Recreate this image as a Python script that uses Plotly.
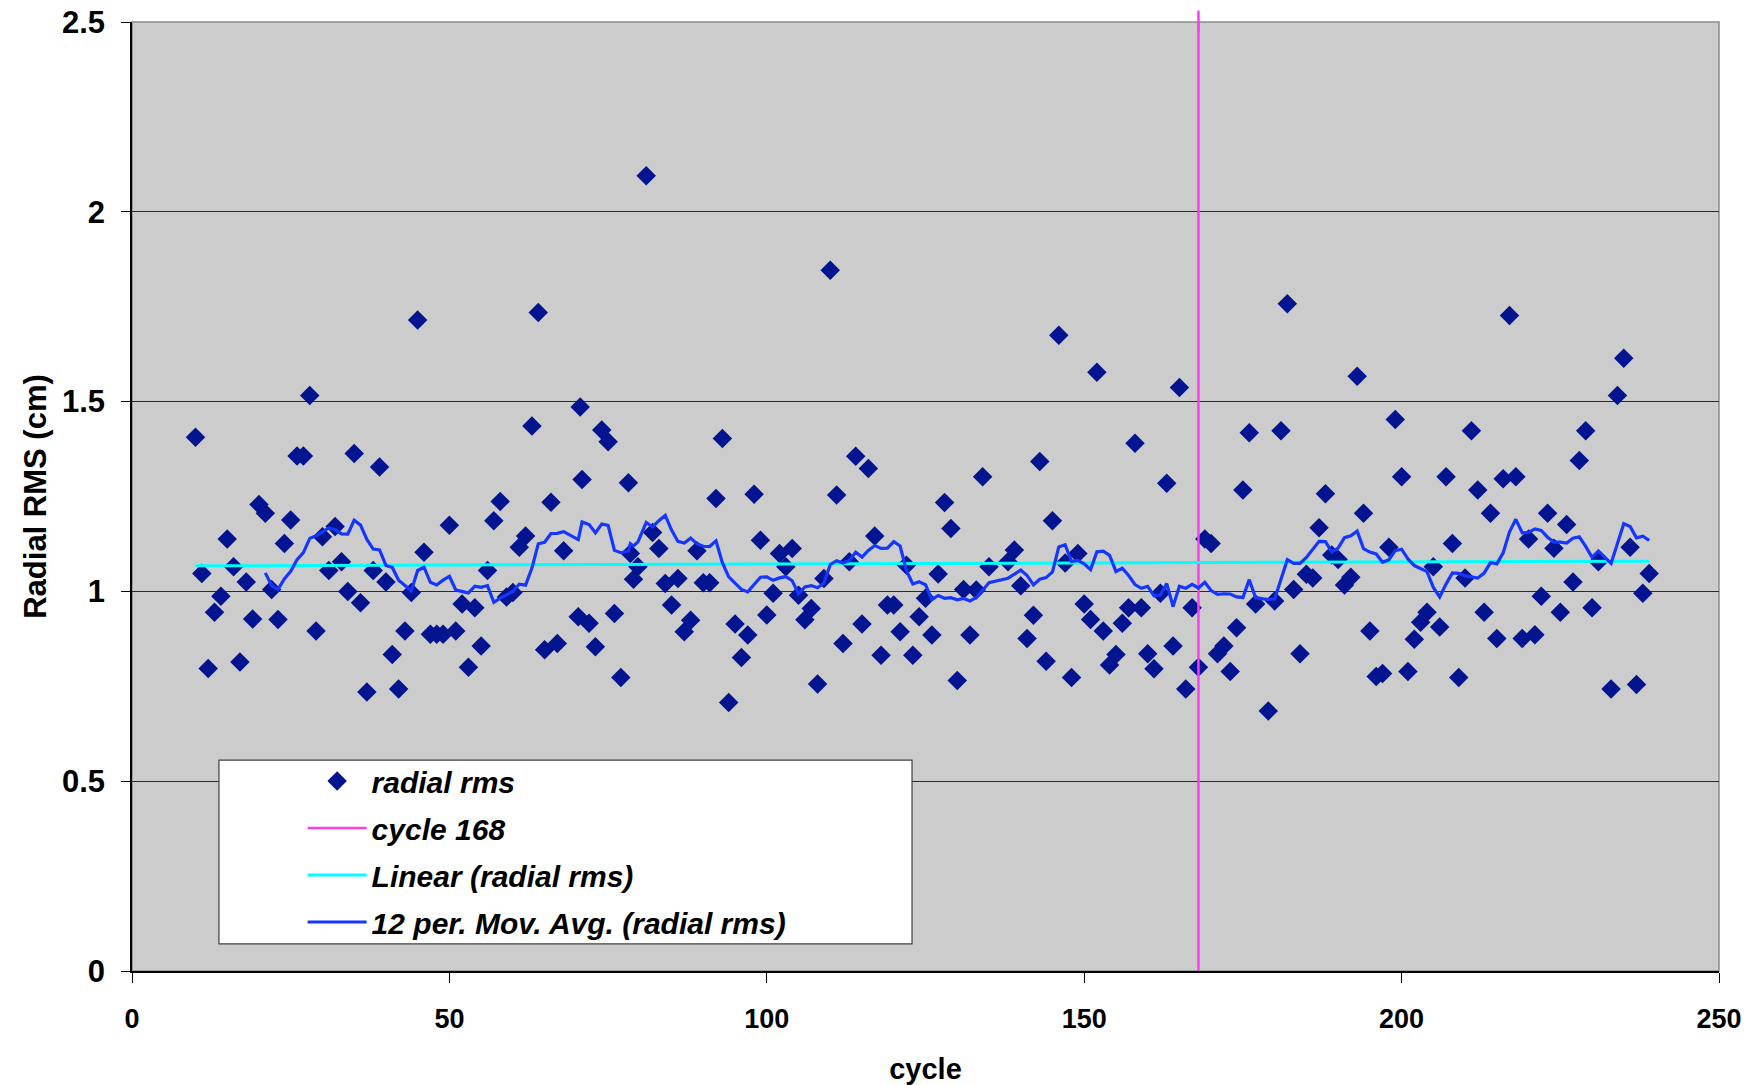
import numpy as np
import pandas as pd
import plotly.graph_objects as go

# ---- data ----
cycles = [10, 11, 12, 13, 14, 15, 16, 17, 18, 19, 20, 21, 22, 23, 24, 25, 26, 27, 28, 29,
          30, 31, 32, 33, 34, 35, 36, 37, 38, 39, 40, 41, 42, 43, 44, 45, 46, 47, 48, 49,
          50, 51, 52, 53, 54, 55, 56, 57, 58, 59, 60, 61, 62, 63, 64, 65, 66, 67, 68,
          70.3, 70.6, 70.9, 72, 73, 74, 75, 76, 77, 78.2, 78.5, 79, 79.7, 81, 82, 83, 84,
          85, 86, 87, 88, 89, 90, 91, 92, 93, 94, 95, 96, 97, 98, 99, 100, 101, 102, 103,
          104, 105, 106, 107, 108, 109, 110, 111, 112, 113, 114, 115, 116, 117, 118, 119,
          120, 121, 122, 123, 124, 125, 126, 127, 128, 129, 130, 131, 132, 133, 134, 135,
          138, 139, 140, 141, 142, 143, 144, 145, 146, 147, 148, 149, 150, 151, 152, 153,
          154, 155, 156, 157, 158, 159, 160, 161, 162, 163, 164, 165, 166, 167, 168, 169,
          170, 171, 172, 173, 174, 175, 176, 177, 179, 180, 181, 182, 183, 184, 185, 186,
          187, 188, 189, 190, 191, 192, 193, 194, 195, 196, 197, 198, 199, 200, 201, 202,
          203, 204, 205, 206, 207, 208, 209, 210, 211, 212, 213, 214, 215, 216, 217, 218,
          219, 220, 221, 222, 223, 224, 225, 226, 227, 228, 229, 230, 231, 233, 234, 235,
          236, 237, 238, 239]
radial_rms = [1.406, 1.047, 0.797, 0.945, 0.987, 1.138, 1.065, 0.814, 1.025, 0.927, 1.229, 1.206,
              1.005, 0.926, 1.126, 1.188, 1.357, 1.357, 1.516, 0.896,
              1.144, 1.055, 1.171, 1.078, 1.000, 1.363, 0.970, 0.735, 1.055, 1.328, 1.025, 0.834,
              0.743, 0.896, 0.997, 1.715, 1.103, 0.887, 0.887, 0.887,
              1.174, 0.896, 0.967, 0.800, 0.957, 0.856, 1.055, 1.186, 1.237, 0.985, 0.997, 1.116,
              1.146, 1.436, 1.735, 0.846, 1.235, 0.863, 1.107,
              0.933, 1.486, 1.295, 0.916, 0.854, 1.425, 1.394, 0.942, 0.773, 1.286, 1.100, 1.032,
              1.065, 2.095, 1.155, 1.113, 1.021,
              0.964, 1.034, 0.894, 0.924, 1.107, 1.023, 1.023, 1.245, 1.403, 0.707, 0.914, 0.826,
              0.885, 1.256, 1.135, 0.938, 0.995, 1.100, 1.065,
              1.113, 0.990, 0.925, 0.955, 0.756, 1.034, 1.846, 1.254, 0.863, 1.078, 1.356, 0.914,
              1.324, 1.146, 0.832, 0.964,
              0.964, 0.894, 1.069, 0.832, 0.933, 0.982, 0.885, 1.046, 1.234, 1.166, 0.765, 1.005,
              0.885, 1.004, 1.302, 1.065,
              1.078, 1.109, 1.015, 0.876, 0.937, 1.342, 0.816, 1.186, 1.675, 1.075, 0.773, 1.100,
              0.967, 0.926, 1.577, 0.896,
              0.806, 0.834, 0.916, 0.957, 1.390, 0.957, 0.836, 0.796, 0.995, 1.285, 0.856, 1.537,
              0.743, 0.957, 0.800, 1.138,
              1.126, 0.836, 0.856, 0.789, 0.904, 1.267, 1.418, 0.967, 0.685, 0.975, 1.423, 1.758,
              1.005, 0.836, 1.045, 1.035,
              1.168, 1.257, 1.096, 1.084, 1.017, 1.037, 1.567, 1.206, 0.896, 0.776, 0.784, 1.116,
              1.453, 1.302, 0.789, 0.874,
              0.919, 0.945, 1.065, 0.906, 1.302, 1.126, 0.773, 1.035, 1.423, 1.267, 0.945, 1.206,
              0.876, 1.297, 1.727, 1.302,
              0.876, 1.138, 0.886, 0.987, 1.206, 1.114, 0.945, 1.176, 1.025, 1.345, 1.423, 0.957,
              1.078, 0.743, 1.516, 1.614,
              1.116, 0.755, 0.995, 1.047]
marker_cycle = [168, 168]
marker_range = [0, 2.5]
ma_period = 12

x_ticks = [0, 50, 100, 150, 200, 250]
y_ticks = [0, 0.5, 1, 1.5, 2, 2.5]
y_tick_text = ["0", "0.5", "1", "1.5", "2", "2.5"]

# derived series (Excel-style trendlines)
ma = pd.Series(radial_rms).rolling(ma_period).mean()
slope, intercept = np.polyfit(cycles, radial_rms, 1)
lin_x = [cycles[0], cycles[-1]]
lin_y = [slope * v + intercept for v in lin_x]

FONT = "Liberation Sans, Arial, sans-serif"
MAGENTA = "#ff3cf0"

fig = go.Figure()
fig.add_trace(go.Scatter(
    x=cycles, y=radial_rms, mode="markers", name="radial rms", legendgroup="a",
    marker=dict(symbol="diamond", size=15, color="#021490", line=dict(width=0)),
))
fig.add_trace(go.Scatter(
    x=marker_cycle, y=marker_range, mode="lines", name="cycle 168", legendgroup="b",
    line=dict(color=MAGENTA, width=2.5),
))
fig.add_trace(go.Scatter(
    x=lin_x, y=lin_y, mode="lines", name="Linear (radial rms)", legendgroup="c",
    line=dict(color="#00ffff", width=3),
))
fig.add_trace(go.Scatter(
    x=cycles[ma_period - 1:], y=ma[ma_period - 1:].tolist(), mode="lines",
    name="12 per. Mov. Avg. (radial rms)", legendgroup="d",
    line=dict(color="#1436ff", width=3.2),
))

fig.update_layout(
    width=1758, height=1085,
    margin=dict(l=132, r=39, t=22, b=114),
    paper_bgcolor="white",
    plot_bgcolor="#cccccc",
    showlegend=True,
    legend=dict(
        x=0.1075, y=0.2276, xanchor="left", yanchor="top",
        bgcolor="rgba(0,0,0,0)", borderwidth=0,
        font=dict(family=FONT, size=30, color="black", weight="bold", style="italic"),
        itemwidth=59, tracegroupgap=5, traceorder="grouped",
    ),
    shapes=[
        dict(type="rect", xref="paper", yref="paper", x0=0.0548, x1=0.4915, y0=0.0285, y1=0.2223,
             fillcolor="white", line=dict(color="#404040", width=1.2), layer="above"),
        dict(type="rect", xref="paper", yref="paper", x0=0, x1=1, y0=0, y1=1,
             fillcolor="rgba(0,0,0,0)", line=dict(color="#8c8c8c", width=1.5), layer="below"),
        # small overshoot of the cycle marker line above the plot area, as in the original
        dict(type="line", xref="x", yref="paper", x0=marker_cycle[0], x1=marker_cycle[1],
             y0=0.99, y1=1.012, line=dict(color=MAGENTA, width=2.5)),
    ],
)

fig.update_xaxes(
    range=[0, 250], tickvals=x_ticks, ticktext=[str(v) for v in x_ticks],
    showgrid=False, zeroline=False, automargin=False,
    showline=True, linecolor="black", linewidth=1.5,
    ticks="outside", ticklen=10, tickcolor="black", tickwidth=1,
    tickfont=dict(family=FONT, size=27, color="black", weight="bold"),
    ticklabelstandoff=13,
    title=dict(text="cycle", font=dict(family=FONT, size=29, color="black", weight="bold"), standoff=27),
)
fig.update_yaxes(
    range=[0, 2.5], tickvals=y_ticks, ticktext=y_tick_text,
    showgrid=True, gridcolor="#2a2a2a", gridwidth=1, zeroline=False, automargin=False,
    showline=True, linecolor="black", linewidth=1.5,
    ticks="outside", ticklen=9, tickcolor="black", tickwidth=1,
    tickfont=dict(family=FONT, size=31, color="black", weight="bold"),
    ticklabelstandoff=10,
    title=dict(text="Radial RMS (cm)", font=dict(family=FONT, size=31, color="black", weight="bold"), standoff=6),
)

fig.write_html("out.html")
